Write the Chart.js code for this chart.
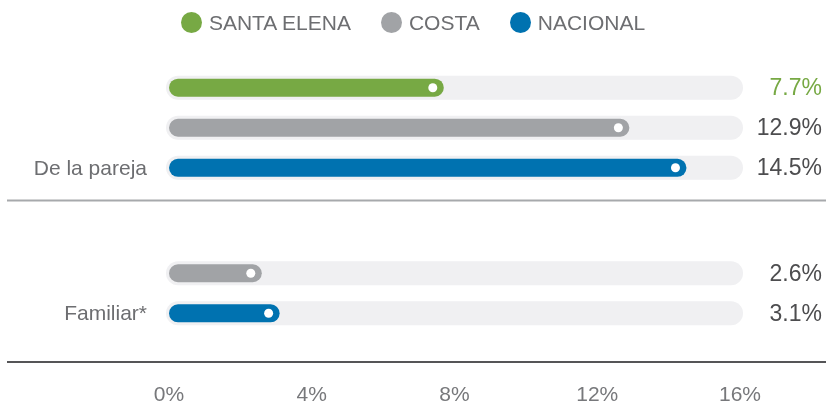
<!DOCTYPE html>
<html>
<head>
<meta charset="utf-8">
<script src="https://cdn.jsdelivr.net/npm/chart.js@4.4.1/dist/chart.umd.min.js"></script>
<style>
  html, body { margin: 0; padding: 0; background: #fff; }
  #wrap { position: relative; width: 826px; height: 407px; }
  #legend {
    position: absolute; top: 12px; left: 0; width: 826px;
    display: flex; justify-content: center;
    font: 21px 'Liberation Sans', Arial, sans-serif; color: #6d6e71; line-height: 21px;
  }
  #legend .item { display: flex; align-items: center; margin: 0 15px; }
  #legend .dot { width: 21px; height: 21px; border-radius: 50%; margin-right: 7px; }
  canvas { display: block; }
</style>
</head>
<body>
<div id="wrap">
  <div id="legend"></div>
  <canvas id="chart" width="826" height="407"></canvas>
</div>
<script>
const categories = ['De la pareja', 'Familiar*']
const seriesNames = ['SANTA ELENA', 'COSTA', 'NACIONAL']
const santaElena = [7.7, null]
const costa = [12.9, 2.6]
const nacional = [14.5, 3.1]
const xTicks = [0, 4, 8, 12, 16]
const trackMax = 16

const colors = ['#77a944', '#a1a3a6', '#0072b0']
const valueColors = ['#77a944', '#4d4d4f', '#4d4d4f']
const font = "'Liberation Sans', Arial, sans-serif"

// light gray track behind each bar
const tracks = {
    id: 'tracks',
    beforeDatasetsDraw(chart) {
        const ctx = chart.ctx
        const x = chart.scales.x
        const x0 = x.getPixelForValue(0) - 3
        const x1 = x.getPixelForValue(trackMax) + 3
        ctx.save()
        ctx.fillStyle = '#f0f0f2'
        chart.data.datasets.forEach((ds, i) => {
            chart.getDatasetMeta(i).data.forEach((bar, j) => {
                if (ds.data[j] == null) return
                ctx.beginPath()
                ctx.roundRect(x0, bar.y - 12, x1 - x0, 24, 12)
                ctx.fill()
            })
        })
        ctx.restore()
    },
}

// white dot at the end of each bar, value on the right,
// category name next to the last bar of its group
const barLabels = {
    id: 'barLabels',
    afterDatasetsDraw(chart) {
        const ctx = chart.ctx
        const last = chart.data.datasets.length - 1
        ctx.save()
        ctx.textBaseline = 'middle'
        chart.data.datasets.forEach((ds, i) => {
            chart.getDatasetMeta(i).data.forEach((bar, j) => {
                const v = ds.data[j]
                if (i === last) {
                    ctx.fillStyle = '#6d6e71'
                    ctx.font = '21px ' + font
                    ctx.textAlign = 'right'
                    ctx.fillText(chart.data.labels[j], chart.chartArea.left - 22, bar.y + 1)
                }
                if (v == null) return
                ctx.fillStyle = '#fff'
                ctx.beginPath()
                ctx.arc(bar.x - 11, bar.y, 4.5, 0, Math.PI * 2)
                ctx.fill()
                ctx.fillStyle = valueColors[i]
                ctx.font = '23px ' + font
                ctx.textAlign = 'right'
                ctx.fillText(v.toFixed(1) + '%', chart.width - 4, bar.y + 1)
            })
        })
        ctx.restore()
    },
}

// horizontal rules between groups and under the chart
const separators = {
    id: 'separators',
    afterDraw(chart) {
        const ctx = chart.ctx
        const y = chart.scales.y
        const mid = (y.getPixelForValue(0) + y.getPixelForValue(1)) / 2
        ctx.save()
        ctx.lineWidth = 2
        ctx.strokeStyle = '#a7a9ac'
        ctx.beginPath()
        ctx.moveTo(7, mid)
        ctx.lineTo(chart.width, mid)
        ctx.stroke()
        ctx.strokeStyle = '#555557'
        ctx.beginPath()
        ctx.moveTo(7, chart.chartArea.bottom + 16)
        ctx.lineTo(chart.width, chart.chartArea.bottom + 16)
        ctx.stroke()
        ctx.restore()
    },
}

const seriesData = [santaElena, costa, nacional]
const chart = new Chart(document.getElementById('chart'), {
    type: 'bar',
    data: {
        labels: categories,
        datasets: seriesNames.map((name, i) => ({
            label: name,
            data: seriesData[i],
            backgroundColor: colors[i],
            borderRadius: 9,
            borderSkipped: false,
            barPercentage: 0.45,
            categoryPercentage: 0.825,
        })),
    },
    options: {
        indexAxis: 'y',
        responsive: false,
        animation: false,
        layout: { padding: { top: 55, right: 86, left: 169, bottom: 0 } },
        plugins: {
            legend: { display: false },
            tooltip: { enabled: false },
        },
        scales: {
            x: {
                min: 0,
                max: trackMax,
                afterBuildTicks: (s) => {
                    s.ticks = xTicks.map((v) => ({ value: v }))
                },
                // the padding is reserved twice otherwise
                afterFit: (s) => {
                    s.height = 61
                },
                grid: { display: false, drawTicks: false },
                border: { display: false },
                ticks: {
                    padding: 39,
                    color: '#77787b',
                    font: { family: font, size: 21, lineHeight: 1 },
                    callback: (v) => v + '%',
                },
            },
            y: {
                display: false,
            },
        },
    },
    plugins: [tracks, barLabels, separators],
})

// html legend
const legend = document.getElementById('legend')
chart.data.datasets.forEach((ds) => {
    const item = document.createElement('div')
    item.className = 'item'
    const dot = document.createElement('span')
    dot.className = 'dot'
    dot.style.background = ds.backgroundColor
    item.appendChild(dot)
    item.appendChild(document.createTextNode(ds.label))
    legend.appendChild(item)
})
</script>
</body>
</html>
